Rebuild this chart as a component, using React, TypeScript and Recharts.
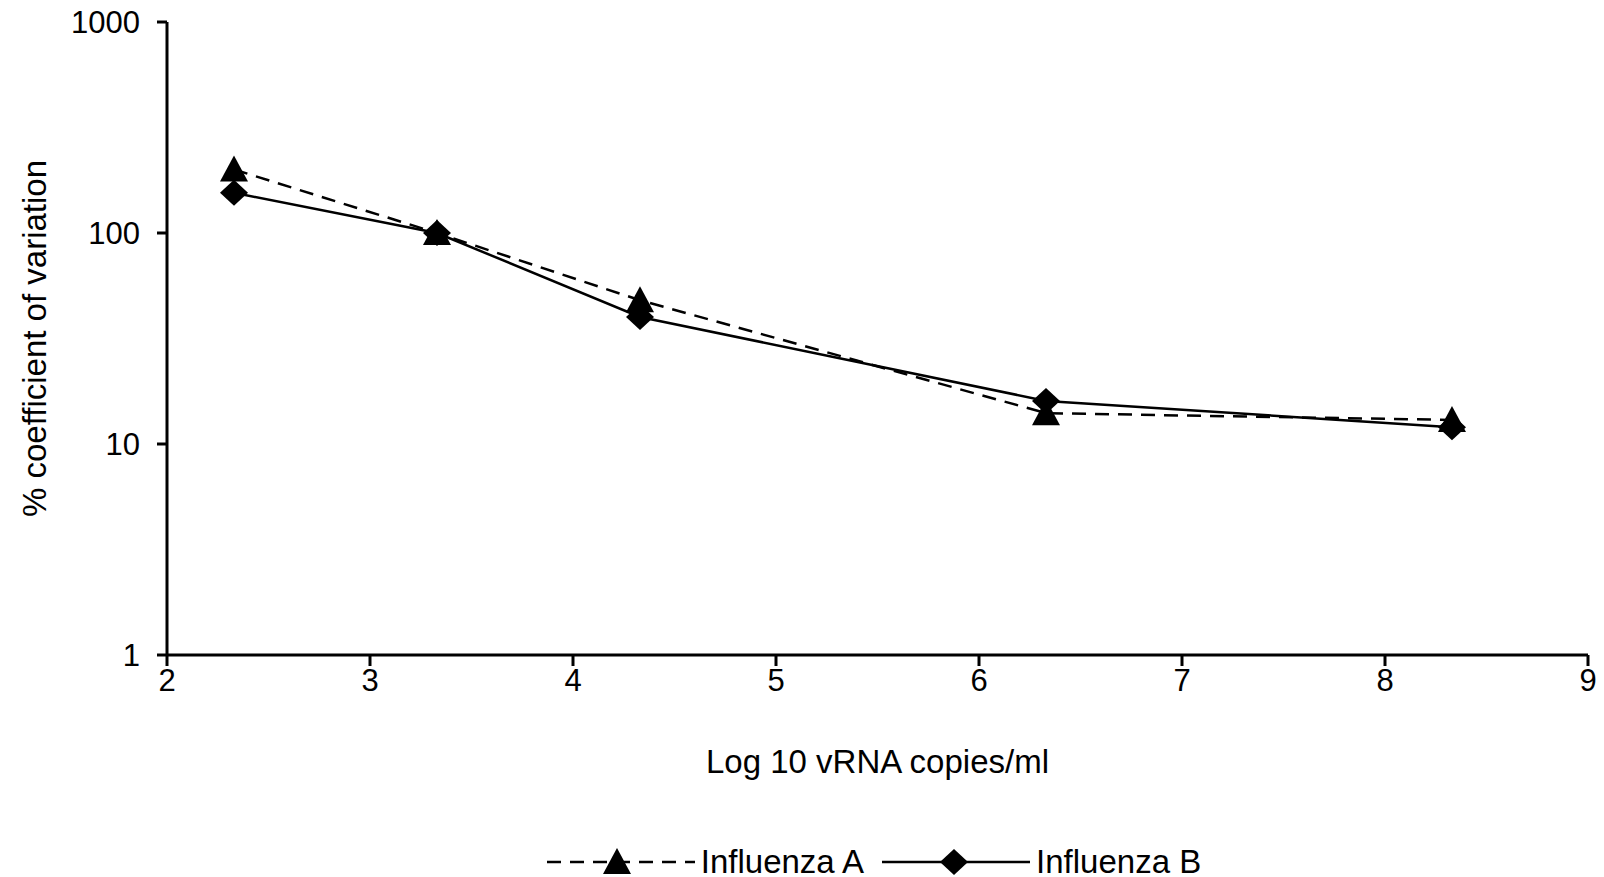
import { LineChart, Line, XAxis, YAxis } from 'recharts';

const logCopies = [2.33, 3.33, 4.33, 6.33, 8.33];
const influenzaA = [200, 100, 48, 14, 13];
const influenzaB = [155, 100, 40, 16, 12];
const xTicks = [2, 3, 4, 5, 6, 7, 8, 9];
const yTicks = [1, 10, 100, 1000];

const data = logCopies.map((x, i) => ({ x, a: influenzaA[i], b: influenzaB[i] }));

const FONT = '"Liberation Sans", Arial, sans-serif';

function Triangle({ cx, cy }: any) {
  if (cx == null || cy == null) return null;
  return <path d={`M${cx},${cy - 14} L${cx + 14},${cy + 12} L${cx - 14},${cy + 12} Z`} fill="#000" />;
}

function Diamond({ cx, cy }: any) {
  if (cx == null || cy == null) return null;
  return <path d={`M${cx},${cy - 13} L${cx + 14},${cy} L${cx},${cy + 13} L${cx - 14},${cy} Z`} fill="#000" />;
}

function YLabel({ viewBox }: any) {
  const cy = viewBox.y + viewBox.height / 2;
  return (
    <text x={34} y={cy} transform={`rotate(-90, 34, ${cy})`} textAnchor="middle" dominantBaseline="central"
      fontSize={33} fontFamily={FONT} fill="#000">
      % coefficient of variation
    </text>
  );
}

function LegendItem({ dashed, label }: { dashed: boolean; label: string }) {
  return (
    <div style={{ display: 'flex', alignItems: 'center' }}>
      <svg width={148} height={30}>
        <line x1={0} y1={15} x2={148} y2={15} stroke="#000" strokeWidth={2.5} strokeDasharray={dashed ? '14 9' : undefined} />
        {dashed ? <Triangle cx={70} cy={15} /> : <Diamond cx={72} cy={15} />}
      </svg>
      <span style={{ marginLeft: 6, fontSize: 33, fontFamily: FONT, color: '#000' }}>{label}</span>
    </div>
  );
}

export default function App() {
  return (
    <div style={{ position: 'absolute', left: 0, top: 0, width: 1604, height: 877, background: '#fff' }}>
      <LineChart width={1604} height={877} data={data} margin={{ top: 22, right: 16, bottom: 0, left: 0 }}>
        <XAxis
          dataKey="x"
          type="number"
          domain={[2, 9]}
          ticks={xTicks}
          height={222}
          tickSize={11}
          tickMargin={3}
          axisLine={{ stroke: '#000', strokeWidth: 3 }}
          tickLine={{ stroke: '#000', strokeWidth: 3 }}
          tick={{ fill: '#000', fontSize: 31, fontFamily: FONT }}
          label={{ value: 'Log 10 vRNA copies/ml', position: 'insideTop', offset: 95, fill: '#000', fontSize: 33, fontFamily: FONT }}
        />
        <YAxis
          scale="log"
          domain={[1, 1000]}
          ticks={yTicks}
          allowDataOverflow
          width={167}
          tickSize={10}
          tickMargin={17}
          axisLine={{ stroke: '#000', strokeWidth: 3 }}
          tickLine={{ stroke: '#000', strokeWidth: 3 }}
          tick={{ fill: '#000', fontSize: 31, fontFamily: FONT }}
          label={{ content: YLabel }}
        />
        <Line dataKey="a" stroke="#000" strokeWidth={2.5} strokeDasharray="14 9" dot={<Triangle />} activeDot={false} isAnimationActive={false} />
        <Line dataKey="b" stroke="#000" strokeWidth={2.5} dot={<Diamond />} activeDot={false} isAnimationActive={false} />
      </LineChart>
      <div style={{ position: 'absolute', left: 0, top: 843, width: 1604, display: 'flex', justifyContent: 'center', paddingLeft: 144, boxSizing: 'border-box', gap: 18 }}>
        <LegendItem dashed label="Influenza A" />
        <LegendItem dashed={false} label="Influenza B" />
      </div>
    </div>
  );
}
